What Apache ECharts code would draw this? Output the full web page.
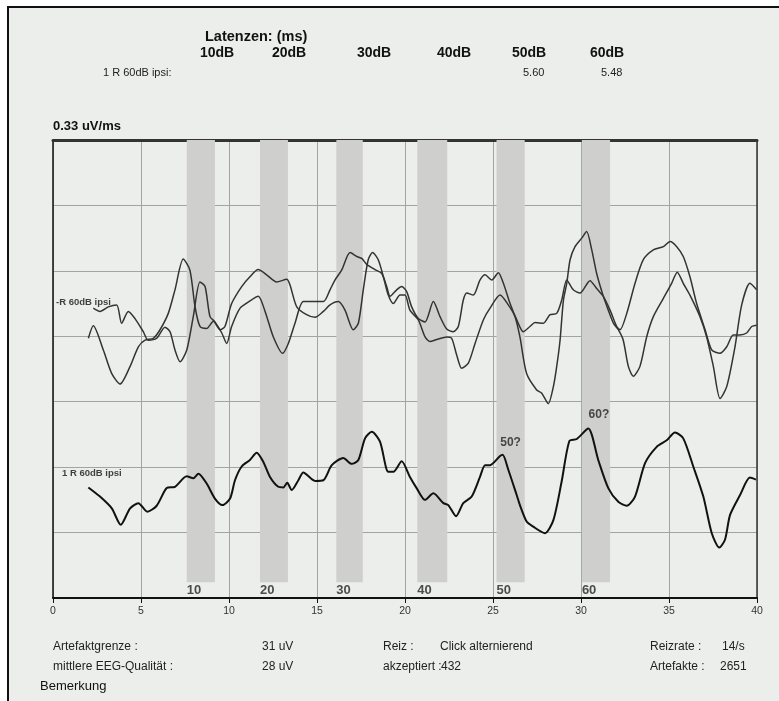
<!DOCTYPE html>
<html><head><meta charset="utf-8">
<script src="https://cdn.jsdelivr.net/npm/echarts@6/dist/echarts.min.js"></script>
<style>html,body{margin:0;padding:0;background:#fff}#c{width:779px;height:701px}</style>
</head><body><div id="c"></div>
<script>
// ---- data ----
const xTicks = [0, 40, 5];
const bandStart = [7.6, 11.76, 16.1, 20.7, 25.2, 30.05];
const bandEnd = [9.2, 13.35, 17.6, 22.4, 26.8, 31.65];
const bandLabels = ['10', '20', '30', '40', '50', '60'];
const traceTop1 = [[2.29,4.43],[2.67,4.38],[3.14,4.45],[3.62,4.48],[3.90,4.20],[4.28,4.38],[4.66,4.27],[5.13,4.07],[5.41,3.94],[5.89,3.97],[6.36,4.14],[6.65,4.07],[6.93,3.79],[7.22,3.61],[7.60,3.79],[7.97,4.30],[8.35,4.83],[8.64,4.76],[8.92,4.30],[9.20,4.22],[9.59,4.05],[9.87,3.89],[10.15,4.15],[10.63,4.43],[11.19,4.54],[11.66,4.61],[12.05,4.38],[12.52,3.99],[13.05,3.74],[13.37,3.89],[13.75,4.20],[14.22,4.53],[14.79,4.53],[15.36,4.53],[15.74,4.71],[16.02,4.86],[16.40,5.01],[16.88,5.28],[17.26,5.22],[17.54,5.19],[17.82,5.10],[18.30,5.02],[18.68,4.96],[18.96,4.76],[19.15,4.61],[19.53,4.71],[19.81,4.76],[20.10,4.68],[20.38,4.45],[20.76,4.27],[21.14,4.22],[21.61,4.53],[21.99,4.30],[22.37,4.11],[22.74,4.07],[23.03,4.15],[23.31,4.55],[23.51,4.66],[23.88,4.63],[24.26,4.86],[24.55,4.94],[24.93,4.86],[25.30,4.97],[25.59,4.81],[25.97,4.50],[26.35,4.25],[26.72,4.07],[27.10,4.15],[27.39,4.21],[27.86,4.20],[28.24,4.33],[28.62,4.35],[28.90,4.55],[29.19,4.86],[29.56,4.71],[29.94,4.66],[30.51,4.85],[30.89,4.73],[31.27,4.61],[31.65,4.40],[32.03,4.15],[32.22,4.10],[32.60,4.35],[33.07,4.81],[33.54,5.17],[34.11,5.32],[34.68,5.37],[35.06,5.45],[35.44,5.37],[35.81,5.22],[36.19,4.91],[36.57,4.50],[37.05,4.10],[37.43,3.79],[37.90,3.74],[38.28,3.84],[38.65,4.02],[39.03,4.02],[39.41,4.05],[39.70,4.15],[39.98,4.17]];
const traceTop2 = [[2.01,3.97],[2.29,4.16],[2.86,3.79],[3.34,3.43],[3.81,3.27],[4.38,3.54],[4.85,3.84],[5.23,3.94],[5.70,3.97],[6.08,4.10],[6.55,4.35],[6.93,4.71],[7.40,5.18],[7.78,5.01],[8.07,4.45],[8.35,4.15],[8.73,4.12],[9.11,4.23],[9.49,4.10],[9.77,4.15],[10.15,4.50],[10.72,4.76],[11.19,4.91],[11.66,5.02],[12.14,4.94],[12.71,4.83],[13.28,4.87],[13.47,4.78],[13.85,4.45],[14.41,4.33],[14.89,4.29],[15.36,4.38],[15.74,4.48],[16.21,4.53],[16.59,4.40],[17.06,4.10],[17.35,4.20],[17.63,4.71],[17.91,5.17],[18.16,5.28],[18.48,5.17],[18.77,4.91],[19.05,4.63],[19.34,4.50],[19.72,4.63],[20.00,4.63],[20.28,4.40],[20.76,4.25],[21.14,3.99],[21.42,3.92],[21.80,3.95],[22.37,3.99],[22.65,3.97],[22.94,3.71],[23.22,3.51],[23.60,3.59],[23.98,3.89],[24.45,4.25],[24.83,4.43],[25.40,4.63],[25.87,4.48],[26.25,4.30],[26.53,3.99],[26.91,3.43],[27.48,3.18],[27.77,3.13],[28.14,2.97],[28.43,3.23],[28.62,3.54],[28.81,3.94],[29.00,4.55],[29.19,4.81],[29.38,5.17],[29.66,5.37],[30.04,5.50],[30.32,5.60],[30.61,5.32],[30.89,4.96],[31.27,4.61],[31.55,4.40],[31.84,4.20],[32.12,4.10],[32.40,3.94],[32.69,3.54],[32.97,3.39],[33.35,3.54],[33.73,3.99],[34.11,4.30],[34.68,4.58],[35.15,4.81],[35.47,4.98],[35.81,4.81],[36.19,4.63],[36.76,4.30],[37.14,3.99],[37.52,3.54],[37.90,3.05],[38.28,3.23],[38.75,3.84],[39.13,4.48],[39.60,4.81],[39.98,4.71]];
const traceBottom = [[2.01,1.69],[2.67,1.55],[3.34,1.37],[3.85,1.12],[4.38,1.37],[4.85,1.45],[5.36,1.32],[5.89,1.41],[6.46,1.68],[6.93,1.70],[7.60,1.86],[7.97,1.83],[8.26,1.90],[8.73,1.75],[9.20,1.52],[9.62,1.42],[10.06,1.52],[10.34,1.80],[10.72,2.01],[11.19,2.11],[11.57,2.22],[11.95,2.08],[12.33,1.85],[12.80,1.70],[13.09,1.69],[13.31,1.76],[13.56,1.65],[13.94,1.80],[14.22,1.92],[14.89,1.79],[15.36,1.80],[15.84,2.03],[16.49,2.14],[16.97,2.05],[17.35,2.11],[17.73,2.44],[18.11,2.54],[18.58,2.39],[19.05,1.93],[19.34,1.93],[19.81,2.09],[20.28,1.85],[20.66,1.68],[21.14,1.50],[21.61,1.60],[22.18,1.45],[22.46,1.42],[22.90,1.25],[23.31,1.45],[23.79,1.55],[24.26,1.85],[24.55,2.03],[24.83,2.03],[25.40,2.17],[25.55,2.19],[25.87,1.96],[26.35,1.57],[26.53,1.42],[26.91,1.17],[27.29,1.09],[27.95,0.99],[28.43,1.19],[28.90,1.78],[29.34,2.40],[29.76,2.43],[30.41,2.59],[30.98,2.11],[31.55,1.68],[32.12,1.47],[32.60,1.41],[33.07,1.55],[33.64,2.06],[34.30,2.31],[34.87,2.41],[35.34,2.53],[35.81,2.44],[36.38,2.01],[36.95,1.55],[37.43,0.99],[37.86,0.77],[38.18,0.89],[38.47,1.27],[39.03,1.57],[39.60,1.84],[39.94,1.81]];
const traceNames = ['-R 60dB ipsi', '1 R 60dB ipsi'];
const traceNamePos = [[0.17, 4.52], [0.51, 1.90]];
const peakNotes = ['50?', '60?'];
const peakNotePos = [[26.0, 2.37], [31.02, 2.80]];
const dbHeaders = ['10dB', '20dB', '30dB', '40dB', '50dB', '60dB'];
const latencyValues = ['', '', '', '', '5.60', '5.48'];

const chart = echarts.init(document.getElementById('c'), null, {renderer: 'canvas'});
const FN = '"Liberation Sans Narrow", "Liberation Sans", Arial, sans-serif';
const FA = '"Liberation Sans", Arial, sans-serif';
const bg = '#eceeeb';
const bandTop = 7, bandBottom = 0.24, bandLabelV = 0.12;

const dbX = [200, 272, 357, 437, 512, 590];
const graphics = [
  {type:'rect', left:0, top:0, shape:{width:779, height:701}, style:{fill:'#fff'}, z:-10, silent:true},
  {type:'rect', left:8, top:7, shape:{width:771, height:694}, style:{fill:bg}, z:-9, silent:true},
  {type:'rect', left:8, top:6, shape:{width:771, height:2}, style:{fill:'#111'}, z:-8},
  {type:'rect', left:7, top:6, shape:{width:2, height:695}, style:{fill:'#111'}, z:-8},
  {type:'text', left:205, top:29, style:{text:'Latenzen: (ms)', font:'bold 14.5px ' + FN, fill:'#111'}},
  {type:'text', left:103, top:67, style:{text:'1 R 60dB ipsi:', font:'11px ' + FN, fill:'#222'}},
  {type:'text', left:53, top:120, style:{text:'0.33 uV/ms', font:'bold 13px ' + FN, fill:'#111'}},
];
dbHeaders.forEach((h, i) => {
  graphics.push({type:'text', left:dbX[i], top:46, style:{text:h, font:'bold 14px ' + FN, fill:'#111'}});
  if (latencyValues[i]) graphics.push({type:'text', left:dbX[i] + 11, top:67, style:{text:latencyValues[i], font:'11px ' + FN, fill:'#222'}});
});
const footer = [
  ['Artefaktgrenze :', 53, 641], ['31 uV', 262, 641], ['Reiz :', 383, 641], ['Click alternierend', 440, 641], ['Reizrate :', 650, 641], ['14/s', 722, 641],
  ['mittlere EEG-Qualität :', 53, 661], ['28 uV', 262, 661], ['akzeptiert :', 383, 661], ['432', 441, 661], ['Artefakte :', 650, 661], ['2651', 720, 661]
];
footer.forEach(f => graphics.push({type:'text', left:f[1], top:f[2], style:{text:f[0], font:'12px ' + FN, fill:'#222'}}));
graphics.push({type:'text', left:40, top:680, style:{text:'Bemerkung', font:'13px ' + FN, fill:'#111'}});

const option = {
  backgroundColor: 'transparent',
  animation: false,
  graphic: graphics,
  grid: {left:53, right:22, top:140, bottom:103, show:true, backgroundColor:bg, borderWidth:0},
  xAxis: [
    {type:'value', min:xTicks[0], max:xTicks[1], interval:xTicks[2], position:'bottom',
     axisLine:{onZero:false, lineStyle:{color:'#111', width:2}},
     axisTick:{length:5, lineStyle:{color:'#111'}},
     axisLabel:{color:'#333', fontSize:10.5, margin:8, fontFamily:FN},
     splitLine:{show:true, lineStyle:{color:'#a3a3a3', width:1}}},
    {type:'value', min:xTicks[0], max:xTicks[1], position:'top',
     axisLine:{onZero:false, lineStyle:{color:'#333', width:3}},
     axisTick:{show:false}, axisLabel:{show:false}, splitLine:{show:false}}
  ],
  yAxis: [
    {type:'value', min:0, max:7, interval:1,
     axisLine:{show:true, onZero:false, lineStyle:{color:'#111', width:1.5}},
     axisTick:{show:false}, axisLabel:{show:false},
     splitLine:{show:true, lineStyle:{color:'#a3a3a3', width:1}}},
    {type:'value', min:0, max:7, position:'right',
     axisLine:{show:true, onZero:false, lineStyle:{color:'#333', width:1.5}},
     axisTick:{show:false}, axisLabel:{show:false}, splitLine:{show:false}}
  ],
  series: [
    {type:'custom', z:1, silent:true,
     data: bandStart.map((s, i) => [s, bandEnd[i]]),
     renderItem: (params, api) => {
       const p1 = api.coord([api.value(0), bandTop]);
       const p2 = api.coord([api.value(1), bandBottom]);
       return {type:'rect', shape:{x:p1[0], y:p1[1], width:p2[0]-p1[0], height:p2[1]-p1[1]},
               style:{fill:'#cfcfcd'}};
     }},
    {type:'scatter', symbolSize:0, z:3, silent:true,
     data: bandStart.map((s, i) => ({value:[s, bandLabelV], label:{formatter:bandLabels[i]}})),
     label:{show:true, position:'right', distance:0, color:'#222', fontWeight:'bold', fontSize:13, fontFamily:FN}},
    {type:'line', name:'top1', data:traceTop1, showSymbol:false, smooth:0.25, z:4,
     lineStyle:{color:'#333', width:1.5}},
    {type:'line', name:'top2', data:traceTop2, showSymbol:false, smooth:0.25, z:4,
     lineStyle:{color:'#333', width:1.5}},
    {type:'line', name:'bottom', data:traceBottom, showSymbol:false, smooth:0.25, z:4,
     lineStyle:{color:'#111', width:2}},
    {type:'scatter', symbolSize:0, z:5, silent:true,
     data: traceNames.map((n, i) => ({value:traceNamePos[i], label:{formatter:n}})),
     label:{show:true, position:'right', distance:0, color:'#111', fontWeight:'bold', fontSize:9.5, fontFamily:FA}},
    {type:'scatter', symbolSize:0, z:5, silent:true,
     data: peakNotes.map((n, i) => ({value:peakNotePos[i], label:{formatter:n}})),
     label:{show:true, position:'inside', color:'#222', fontWeight:'bold', fontSize:12, fontFamily:FN}}
  ]
};
chart.setOption(option);
</script></body></html>
